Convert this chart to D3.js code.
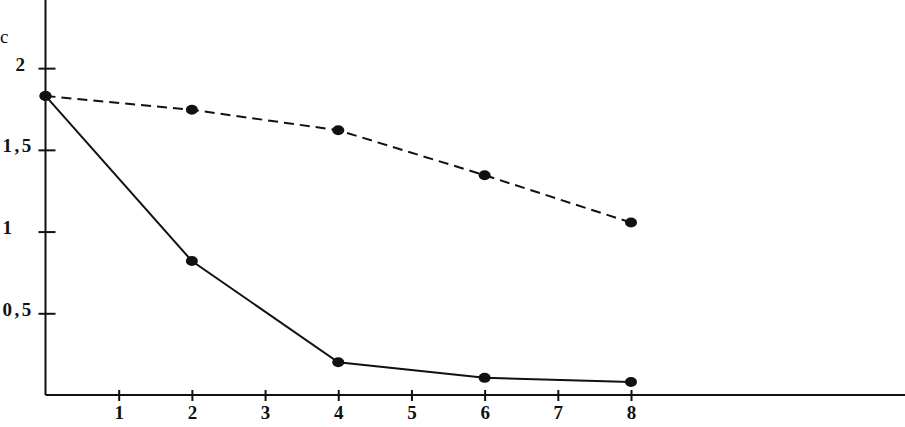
<!DOCTYPE html>
<html><head><meta charset="utf-8">
<script src="https://cdn.jsdelivr.net/npm/d3@7"></script>
<style>
html,body{margin:0;padding:0;background:#fff;}
svg{display:block;}
text{font-family:"Liberation Serif","DejaVu Serif",serif;fill:#111;}
</style></head>
<body><svg id="c" width="905" height="427"></svg>
<script>
const xValues = [0, 2, 4, 6, 8];
const dashedSeries = [1.83, 1.745, 1.62, 1.345, 1.055];
const solidSeries = [1.83, 0.82, 0.20, 0.105, 0.08];
const xTicks = [1, 2, 3, 4, 5, 6, 7, 8];
const yTicks = [0.5, 1, 1.5, 2];
const yLabels = ["0,5", "1", "1,5", "2"];
const axisLabel = "c";

const svg = d3.select("#c");
const x = d3.scaleLinear().domain([0, 8]).range([45.5, 631]);
const y = d3.scaleLinear().domain([0, 2.417]).range([395, 0]);
const ink = "#111";

// axes lines
svg.append("line").attr("x1", 45.5).attr("x2", 905).attr("y1", y(0)).attr("y2", y(0))
  .attr("stroke", ink).attr("stroke-width", 2);
svg.append("line").attr("x1", 45.5).attr("x2", 45.5).attr("y1", 0).attr("y2", y(0))
  .attr("stroke", ink).attr("stroke-width", 2);

// x axis ticks
const xa = svg.append("g").attr("transform", `translate(0,${y(0)})`)
  .call(d3.axisBottom(x).tickValues(xTicks).tickSize(0).tickPadding(0).tickFormat(d3.format("d")));
xa.select(".domain").remove();
xa.selectAll(".tick line").attr("y1", -5).attr("y2", 6).attr("stroke", ink).attr("stroke-width", 2);
xa.selectAll(".tick text").attr("y", 24).attr("dy", null)
  .attr("font-size", 19).attr("font-weight", "bold").attr("fill", ink);

// y axis ticks
const ya = svg.append("g").attr("transform", "translate(45.5,0)")
  .call(d3.axisLeft(y).tickValues(yTicks).tickSize(0).tickPadding(0)
    .tickFormat((d, i) => yLabels[i]));
ya.select(".domain").remove();
ya.selectAll(".tick line").attr("x1", -7).attr("x2", 10).attr("stroke", ink).attr("stroke-width", 2);
ya.selectAll(".tick text").attr("text-anchor", "start").attr("x", -43).attr("dy", "0.1em")
  .attr("font-size", 19).attr("font-weight", "bold").attr("letter-spacing", 2.5).attr("fill", ink);
ya.selectAll(".tick text").filter(d => d === 2).attr("x", -30);

svg.append("text").attr("x", 0).attr("y", 43).attr("font-size", 19).attr("fill", ink).text(axisLabel);

// lines
const line = d3.line().x((d, i) => x(xValues[i])).y(d => y(d));
svg.append("path").datum(dashedSeries).attr("d", line).attr("fill", "none")
  .attr("stroke", ink).attr("stroke-width", 2).attr("stroke-dasharray", "10,6");
svg.append("path").datum(solidSeries).attr("d", line).attr("fill", "none")
  .attr("stroke", ink).attr("stroke-width", 2);

[dashedSeries, solidSeries].forEach(s => {
  svg.append("g").selectAll("ellipse").data(s).join("ellipse")
    .attr("cx", (d, i) => x(xValues[i])).attr("cy", d => y(d))
    .attr("rx", 6).attr("ry", 5).attr("fill", ink);
});
</script></body></html>
